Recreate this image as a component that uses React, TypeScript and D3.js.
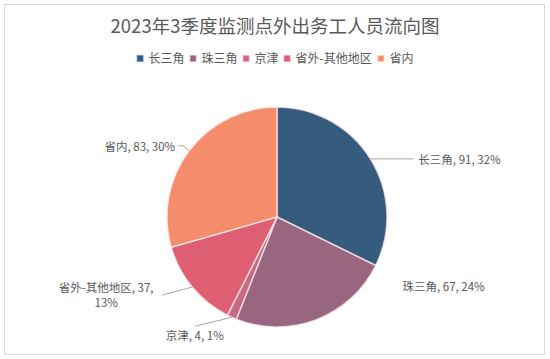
import React from "react";
import * as d3 from "d3";

const categories = ["长三角", "珠三角", "京津", "省外-其他地区", "省内"];
const values = [91, 67, 4, 37, 83];
const percents = ["32%", "24%", "1%", "13%", "30%"];
const colors = ["#355b7d", "#99667f", "#c96a85", "#de5f72", "#f58c6c"];
const title = "2023年3季度监测点外出务工人员流向图";

// label layout: leader elbow offset from slice edge point, and text placement mode
const labelLayout = [
  { elbow: [0, 0], end: [43, 0], mode: "right", tdx: 5, tdy: 0 },
  { elbow: null, end: [86, -34], mode: "free", tdx: 0, tdy: 0 },
  { elbow: null, end: [-37, 9], mode: "below", tdx: 0, tdy: 9 },
  { elbow: null, end: [-30, 8], mode: "left2", tdx: -56, tdy: 0 },
  { elbow: [-6, -5], end: [-11, -5], mode: "left", tdx: -3, tdy: 0 },
];

const W = 550, H = 359;
const cx = 277, cy = 217, R = 110;
const FONT = "'Noto Sans CJK SC', 'Microsoft YaHei', sans-serif";
const TEXT = "#595959";

function textW(s: string, fs: number) {
  let w = 0;
  for (const ch of s) {
    if (/[\u4e00-\u9fff]/.test(ch)) w += fs;
    else if (ch === "-") w += fs * 0.4;
    else w += fs * 0.55;
  }
  return w;
}

export default function App() {
  const pie = d3.pie<number>().sort(null).value((d) => d);
  const arcs = pie(values);
  const arc = d3.arc<d3.PieArcDatum<number>>().innerRadius(0).outerRadius(R);

  // legend layout
  const lfs = 12;
  const items = categories.map((c) => 7 + 5 + textW(c, lfs) + 5);
  const totalW = d3.sum(items) - 5;
  let lx = W / 2 - totalW / 2;
  const legendX: number[] = [];
  items.forEach((w) => {
    legendX.push(lx);
    lx += w;
  });

  return (
    <svg
      width={W}
      height={H}
      style={{ position: "absolute", left: 0, top: 0, background: "#fff" }}
      fontFamily={FONT}
    >
      <rect x={4.5} y={4.5} width={540} height={350} fill="#fff" stroke="#d9d9d9" />
      <text x={W / 2} y={33} textAnchor="middle" fontSize={18.5} fill={TEXT}>
        {title}
      </text>
      <g>
        {categories.map((c, i) => (
          <g key={c} transform={`translate(${legendX[i]},0)`}>
            <rect x={0.5} y={55.5} width={6} height={6} fill={colors[i]} stroke={d3.color(colors[i])!.brighter(1.2).formatHex()} strokeOpacity={0.7} />
            <text x={12} y={63} fontSize={lfs} fill={TEXT}>
              {c}
            </text>
          </g>
        ))}
      </g>
      <g transform={`translate(${cx},${cy})`}>
        {arcs.map((a, i) => (
          <path
            key={i}
            d={arc(a) || ""}
            fill={colors[i]}
            stroke="rgba(255,235,240,0.75)"
            strokeWidth={1.5}
            strokeLinejoin="round"
          />
        ))}
      </g>
      <g fontSize={11.5} fill={TEXT}>
        {arcs.map((a, i) => {
          const mid = (a.startAngle + a.endAngle) / 2;
          const ex = cx + R * Math.sin(mid);
          const ey = cy - R * Math.cos(mid);
          const L = labelLayout[i];
          const endX = ex + L.end[0];
          const endY = ey + L.end[1];
          const label = `${categories[i]}, ${values[i]}, ${percents[i]}`;
          const pts: [number, number][] = [[ex, ey]];
          if (L.elbow) pts.push([ex + L.elbow[0], ey + L.elbow[1]]);
          pts.push([endX, endY]);
          const line = L.mode === "free" ? null : (
            <path d={d3.line()(pts) || ""} fill="none" stroke="#a6a6a6" strokeWidth={1} />
          );
          let txt: React.ReactNode = null;
          if (L.mode === "right") {
            txt = (
              <text x={endX + L.tdx} y={endY} dominantBaseline="central">{label}</text>
            );
          } else if (L.mode === "left") {
            txt = (
              <text x={endX + L.tdx} y={endY} textAnchor="end" dominantBaseline="central">{label}</text>
            );
          } else if (L.mode === "below") {
            txt = (
              <text x={endX} y={endY + L.tdy} textAnchor="middle" dominantBaseline="central">{label}</text>
            );
          } else if (L.mode === "free") {
            txt = (
              <text x={endX} y={endY} dominantBaseline="central">{label}</text>
            );
          } else {
            txt = (
              <g>
                <text x={endX + L.tdx} y={endY - 3} textAnchor="middle">{`${categories[i]}, ${values[i]},`}</text>
                <text x={endX + L.tdx} y={endY + 11.5} textAnchor="middle">{percents[i]}</text>
              </g>
            );
          }
          return (
            <g key={i}>
              {line}
              {txt}
            </g>
          );
        })}
      </g>
    </svg>
  );
}
